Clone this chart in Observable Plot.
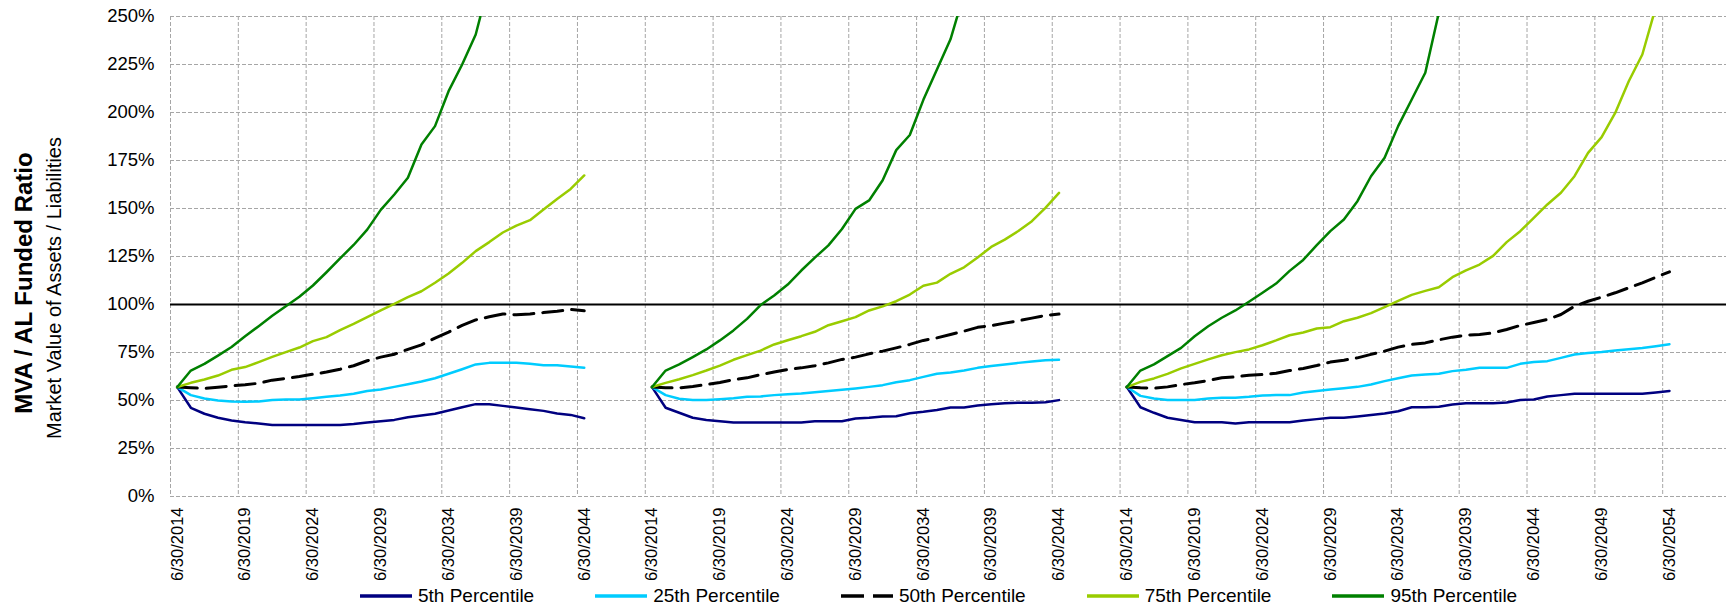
<!DOCTYPE html>
<html>
<head>
<meta charset="utf-8">
<script src="https://cdn.jsdelivr.net/npm/d3@7"></script>
<script src="https://cdn.jsdelivr.net/npm/@observablehq/plot@0.6"></script>
<style>
  html, body { margin: 0; padding: 0; background: #fff; overflow: hidden; }
  body { font-family: "Liberation Sans", Arial, sans-serif; color: #000; }
  #wrap { position: relative; width: 1726px; height: 606px; }
  .ytitle { position: absolute; white-space: nowrap; transform: translate(-50%, -50%) rotate(-90deg); line-height: normal; }
  #t1 { left: 24px; top: 283px; font-size: 24px; font-weight: bold; }
  #t2 { left: 54px; top: 288px; font-size: 20px; }
  #legend { position: absolute; left: 360px; top: 582px; height: 28px; display: flex; align-items: center; gap: 61px; font-size: 19px; white-space: nowrap; }
  .item { display: flex; align-items: center; gap: 6px; }
  .item svg { display: block; }
</style>
</head>
<body>
<div id="wrap">
  <div id="chart"></div>
  <div class="ytitle" id="t1">MVA / AL Funded Ratio</div>
  <div class="ytitle" id="t2">Market Value of Assets / Liabilities</div>
  <div id="legend"></div>
</div>
<script>
// Funded ratio projections (%), one value per fiscal year ending 6/30.
// Scenario A: 2014–2044
const a05 = [57,46.2,43.1,41,39.6,38.7,38,37.3,37.3,37.3,37.3,37.3,37.3,37.8,38.5,39.2,39.9,41.3,42.2,43.1,44.8,46.5,48.1,48.1,47.2,46.4,45.5,44.6,43.2,42.5,40.8];
const a25 = [57,52.8,51,50,49.5,49.3,49.5,50.2,50.5,50.5,51.2,51.9,52.6,53.5,54.9,55.7,57.1,58.5,59.9,61.6,63.9,66.3,68.8,69.6,69.6,69.6,69.1,68.4,68.4,67.7,67];
const a50 = [57,56.6,56.3,56.9,57.6,58.2,59,60.6,61.5,62.5,63.7,64.8,66.3,68.1,70.7,72.6,74.1,76.6,79,82.5,85.6,89.1,92,93.6,95.1,94.6,95.1,95.8,96.5,97.4,96.7];
const a75 = [57,59.2,60.9,63,66,67.4,70,72.7,75.2,77.6,80.9,83,86.6,89.9,93.4,96.9,100.3,103.8,106.9,111.3,116.1,121.7,127.8,132.5,137.5,141.1,143.9,149.5,155,160.2,167.2];
const a95 = [57,65.6,69.1,73.4,77.9,83.5,88.7,94.1,99.1,104,109.9,116.8,124,131,139,149.3,157.3,166,183.3,192.9,211.1,225,240.6,268];

// Scenario B: 2014–2044
const b05 = [57,46.2,43.6,41,39.9,39.2,38.5,38.5,38.5,38.5,38.5,38.5,39.2,39.2,39.2,40.6,41,41.7,41.8,43.4,44.1,45,46.4,46.4,47.4,48.1,48.6,48.8,48.8,49.1,50.2];
const b25 = [57,52.8,50.9,50.3,50.2,50.7,51.2,51.9,52.1,52.8,53.3,53.6,54.3,54.9,55.6,56.3,57.1,58,59.5,60.6,62.3,63.9,64.6,65.6,67,68,68.8,69.6,70.3,71,71.2];
const b50 = [57,56.6,56.6,57.3,58.3,59.4,60.8,61.8,63.5,64.8,66.1,67,68.1,69.6,71.4,72.6,74.3,75.7,77.4,79.2,81.3,82.6,84.4,86.1,88.1,89,90.3,91.5,92.9,94.3,95];
const b75 = [57,59.2,61.1,63.2,65.6,68.2,71.2,73.6,76,79.2,81.4,83.5,85.8,89.2,91.3,93.4,96.9,99,101.7,105.2,109.8,111.4,116,119.4,124.5,130,133.8,138.3,143.4,150.3,158.1];
const b95 = [57,65.6,68.8,72.6,76.6,81.3,86.5,92.5,99.7,104.7,110.4,117.7,124.4,130.8,139.3,149.8,154.2,164.7,180.4,188.3,206.6,222.4,238.1,262];

// Scenario C: 2014–2054
const c05 = [57,46.5,43.6,41,39.9,38.7,38.7,38.7,38,38.7,38.7,38.7,38.7,39.6,40.3,41,41,41.7,42.5,43.2,44.4,46.5,46.5,46.7,47.9,48.6,48.6,48.6,49,50.3,50.5,52.1,52.8,53.5,53.5,53.5,53.5,53.5,53.5,54.2,55];
const c25 = [57,52.4,51,50.3,50.2,50.3,51,51.4,51.4,51.9,52.6,52.8,52.8,54.2,55,55.7,56.4,57.1,58.3,60.1,61.6,63,63.5,63.9,65.3,66,67,67,67,69.1,70,70.5,72.2,74,74.7,75.2,76,76.7,77.4,78.3,79.3];
const c50 = [57,56.6,56.4,57.1,58.3,59.2,60.4,61.8,62.3,63.2,63.5,64.2,65.6,66.7,68.2,70,71,72.2,74,75.7,77.8,79.2,80,81.6,83,84,84.4,85.2,87,89.1,90.6,92.2,94.8,99.1,101.7,103.8,106.1,108.7,111.3,114.2,117];
const c75 = [57,59.7,61.5,63.9,66.7,69.1,71.4,73.6,75.2,76.6,78.8,81.3,84,85.4,87.5,88.2,91.3,93.1,95.5,98.6,101.9,105,107.1,109,114.2,117.8,120.8,125.3,132.5,138.2,145.1,152.1,158.2,166.8,179,187.2,199.8,216.3,230.2,255];
const c95 = [57,65.6,68.8,73.1,77.4,83.5,88.7,93.1,96.9,101.4,106.1,110.9,117.5,123.2,130.9,138.2,144.3,153.8,166.8,176.4,192.9,206.8,220.7,252];

// Category-axis tick labels (every fifth year)
const ticksA = ["6/30/2014","6/30/2019","6/30/2024","6/30/2029","6/30/2034","6/30/2039","6/30/2044"];
const ticksB = ["6/30/2014","6/30/2019","6/30/2024","6/30/2029","6/30/2034","6/30/2039","6/30/2044"];
const ticksC = ["6/30/2014","6/30/2019","6/30/2024","6/30/2029","6/30/2034","6/30/2039","6/30/2044","6/30/2049","6/30/2054"];

const percentiles = ["5th Percentile","25th Percentile","50th Percentile","75th Percentile","95th Percentile"];
const yTicks = [0,25,50,75,100,125,150,175,200,225,250];

// Series styling
const styles = {
  "5th Percentile":  {stroke: "#000080"},
  "25th Percentile": {stroke: "#00CCFF"},
  "50th Percentile": {stroke: "#000000", dash: "20,9", width: 3},
  "75th Percentile": {stroke: "#99CC00"},
  "95th Percentile": {stroke: "#008000"}
};

// The three scenarios share one category axis, separated by empty slots.
const panels = [
  {start: 0,  series: [a05, a25, a50, a75, a95], ticks: ticksA},
  {start: 35, series: [b05, b25, b50, b75, b95], ticks: ticksB},
  {start: 70, series: [c05, c25, c50, c75, c95], ticks: ticksC}
];
const slotCount = 115;

const rows = [];
const tickRows = [];
panels.forEach((p, pi) => {
  p.series.forEach((vals, si) => {
    vals.forEach((v, k) => rows.push({panel: pi, series: percentiles[si], slot: p.start + k + 0.5, value: v}));
  });
  p.ticks.forEach((label, t) => tickRows.push({slot: p.start + t * 5 + 0.5, label}));
});
const gridX = d3.range(0, slotCount + 1, 5);

const lineMarks = percentiles.map(name => {
  const s = styles[name];
  return Plot.line(rows.filter(d => d.series === name), {
    x: "slot", y: "value", z: "panel",
    stroke: s.stroke,
    strokeWidth: s.width || 2.5,
    strokeDasharray: s.dash,
    strokeLinejoin: "round",
    clip: true
  });
});

const chart = Plot.plot({
  width: 1726,
  height: 580,
  marginLeft: 170,
  marginRight: -4,
  marginTop: 16,
  marginBottom: 84,
  style: {fontFamily: "'Liberation Sans', Arial, sans-serif", background: "#fff", color: "#000", overflow: "hidden"},
  x: {domain: [0, slotCount], axis: null},
  y: {domain: [0, 250], axis: null},
  marks: [
    Plot.ruleY(yTicks, {stroke: "#a6a6a6", strokeWidth: 1, strokeDasharray: "4,2"}),
    Plot.ruleX(gridX, {stroke: "#a6a6a6", strokeWidth: 1, strokeDasharray: "4,2"}),
    Plot.ruleY([100], {stroke: "#000", strokeWidth: 2}),
    ...lineMarks,
    Plot.text(yTicks, {
      x: 0, y: d => d, text: d => d + "%",
      textAnchor: "end", dx: -16, fontSize: 18.5, fill: "#000"
    }),
    Plot.text(tickRows, {
      x: "slot", text: "label", frameAnchor: "bottom",
      rotate: -90, textAnchor: "end", lineAnchor: "middle",
      dy: 11, fontSize: 16.5, fill: "#000"
    })
  ]
});
document.getElementById("chart").appendChild(chart);

// Legend below the plot
const legend = document.getElementById("legend");
percentiles.forEach(name => {
  const s = styles[name];
  const item = document.createElement("div");
  item.className = "item";
  const dash = s.dash ? ' stroke-dasharray="23,9"' : "";
  item.innerHTML = `<svg width="52" height="8"><line x1="0" y1="4" x2="52" y2="4" stroke="${s.stroke}" stroke-width="3.5"${dash}/></svg><span>${name}</span>`;
  legend.appendChild(item);
});
</script>
</body>
</html>
